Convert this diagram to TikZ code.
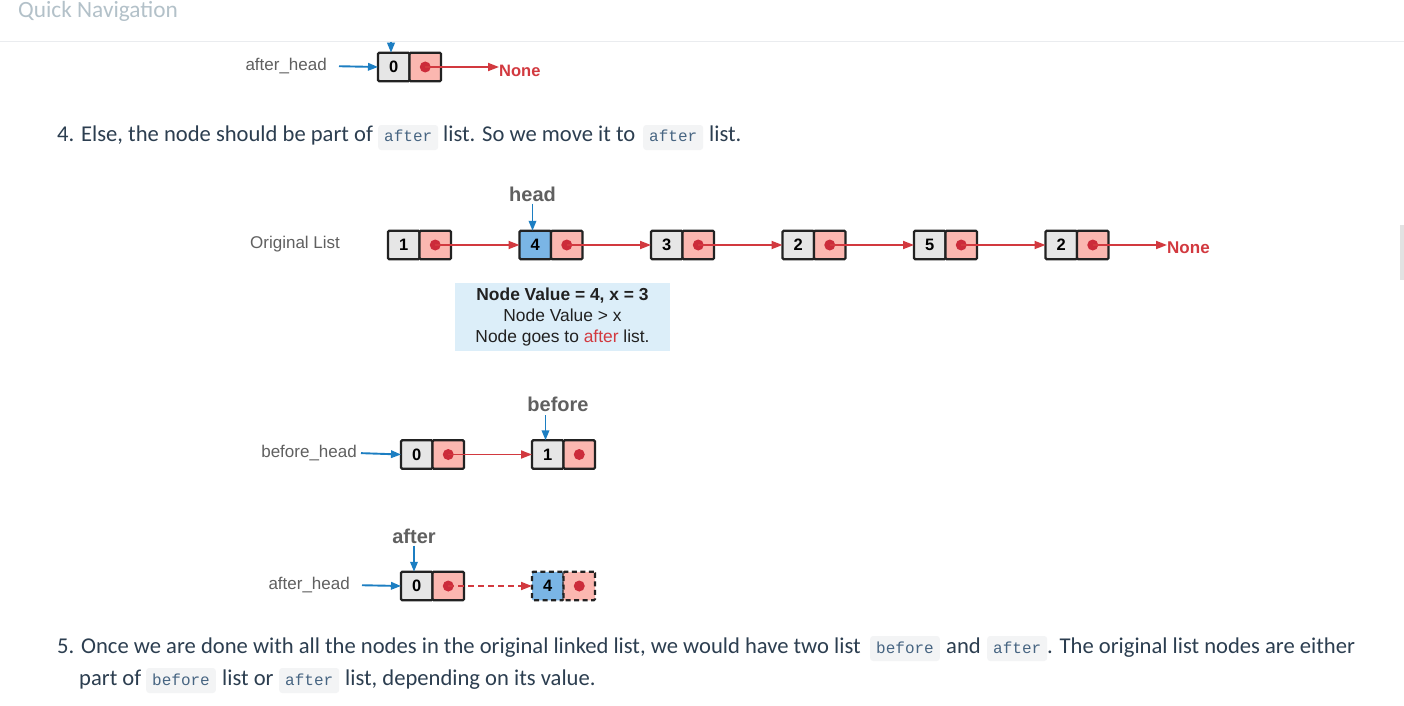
\documentclass[tikz,border=0pt]{standalone}
\usepackage{fontspec}
\setmainfont{Carlito}
\setmonofont{Liberation Mono}
\newfontfamily\diagfont{Liberation Sans}
\usetikzlibrary{arrows.meta,positioning}

\definecolor{bodytext}{HTML}{2C3E50}
\definecolor{navgray}{HTML}{B3C1C9}
\definecolor{rulegray}{HTML}{EAECEF}
\definecolor{codebg}{HTML}{F3F4F5}
\definecolor{codeblue}{HTML}{476582}
\definecolor{labelgray}{HTML}{606060}
\definecolor{cellline}{HTML}{222222}
\definecolor{cellgray}{HTML}{E6E6E6}
\definecolor{cellpink}{HTML}{FBB7B0}
\definecolor{cellblue}{HTML}{7AB5E5}
\definecolor{dotred}{HTML}{CC2B3A}
\definecolor{arrowred}{HTML}{D2393F}
\definecolor{arrowblue}{HTML}{1C7EC2}
\definecolor{infoblue}{HTML}{DCEEF9}
\definecolor{bargray}{HTML}{E2E2E2}

\tikzset{
  cell/.style={draw=cellline, line width=2.2pt, minimum width=31.5pt, minimum height=28.5pt,
    inner sep=0pt, outer sep=0pt, anchor=west, rounded corners=1.2pt,
    font=\diagfont\bfseries\fontsize{16.5}{16.5}\selectfont},
  valcell/.style={cell, fill=cellgray},
  ptrcell/.style={cell, fill=cellpink},
  ghost/.style={dash pattern=on 5pt off 3.5pt},
  redarrow/.style={draw=arrowred, line width=1.8pt, -{Triangle[length=11pt,width=8pt]}},
  bluearrow/.style={draw=arrowblue, line width=1.9pt, -{Triangle[length=10pt,width=7.5pt]}},
  ptrlabel/.style={text=labelgray, inner sep=2pt, font=\diagfont\bfseries\fontsize{20}{20}\selectfont},
  listlabel/.style={text=labelgray, inner sep=0pt, font=\diagfont\fontsize{17}{17}\selectfont},
  nonelabel/.style={text=arrowred, inner sep=0pt, anchor=west, font=\diagfont\bfseries\fontsize{17}{17}\selectfont},
  txt/.style={inner sep=0pt, anchor=base west, text=bodytext, font=\fontsize{22.6}{26}\selectfont},
  code/.style={fill=codebg, rounded corners=3pt, text=codeblue, anchor=base west,
    inner xsep=6pt, inner ysep=4pt, text height=13pt, text depth=4pt,
    font=\ttfamily\fontsize{16}{16}\selectfont}
}

% one linked list node: name, position, value, fill of value cell, extra style
\newcommand{\lnode}[5]{%
  \node[valcell, fill=#4, #5] (#1) at (#2) {#3};
  \node[ptrcell, #5] (#1p) at (#1.east) {};
  \fill[dotred] (#1p.center) circle (5.5pt);
}

\begin{document}
\begin{tikzpicture}[x=1pt, y=-1pt]
  \useasboundingbox (0,0) rectangle (1404,706);
  \fill[white] (0,0) rectangle (1404,706);

  % page header
  \node[txt, text=navgray, font=\fontsize{23.3}{26}\selectfont] (nav) at (18,18) {Quick Navigation};
  \draw[rulegray, line width=1pt] (0,41.5) -- (1404,41.5);
  \fill[bargray] (1400,225) rectangle (1404,280);

  % tail of the previous step
  \lnode{t0}{378,67}{0}{cellgray}{}
  \coordinate (tin) at (391,42);
  \draw[bluearrow] (tin) -- (tin |- t0.north);
  \node[listlabel, anchor=east] (tah) at (327,66) {after\_head};
  \draw[bluearrow, shorten <=12pt] (tah.east) -- (t0.west);
  \node[nonelabel, font=\diagfont\bfseries\fontsize{16.5}{16.5}\selectfont] (tnone) at (499,71) {None};
  \draw[redarrow] (t0p.center) -- (t0p.center -| tnone.west);

  % step 4
  \node[txt] (s4a) at (57,142) {4. Else, the node should be part of};
  \node[code] (s4b) at (378,142) {after};
  \node[txt] (s4c) at (443,142) {list. So we move it to};
  \node[code] (s4d) at (643,142) {after};
  \node[txt] (s4e) at (709,142) {list.};

  % original list
  \node[listlabel, anchor=west] (orig) at (250,244) {Original List};
  \foreach \v/\c [count=\i] in {1/cellgray,4/cellblue,3/cellgray,2/cellgray,5/cellgray,2/cellgray}{
    \lnode{o\i}{{388+131.5*(\i-1)},245}{\v}{\c}{}
  }
  \foreach \i in {1,...,5}{
    \pgfmathtruncatemacro{\j}{\i+1}
    \draw[redarrow] (o\i p.center) -- (o\j.west);
  }
  \node[nonelabel] (onone) at (1167,248) {None};
  \draw[redarrow] (o6p.center) -- (o6p.center -| onone.west);
  \node[ptrlabel] (head) at (532.5,194) {head};
  \draw[bluearrow] (head.south) -- (head.south |- o2.north);

  \node[fill=infoblue, minimum width=215pt, minimum height=68pt, inner sep=0pt, align=center,
    text=black!87, font=\diagfont\fontsize{17.4}{21}\selectfont] (info) at (562.5,317)
    {\textbf{Node Value = 4, x = 3}\\Node Value > x\\Node goes to \textcolor{arrowred}{after} list.};

  % before list
  \lnode{b0}{401,454.5}{0}{cellgray}{}
  \lnode{b1}{532,454.5}{1}{cellgray}{}
  \draw[redarrow] (b0p.center) -- (b1.west);
  \node[listlabel, anchor=east] (bh) at (357,453) {before\_head};
  \draw[bluearrow, shorten <=4pt] (bh.east) -- (b0.west);
  \node[ptrlabel] (before) at (558,404) {before};
  \coordinate (bin) at (545.5,415);
  \draw[bluearrow] (bin) -- (bin |- b1.north);

  % after list
  \lnode{a0}{401,586}{0}{cellgray}{}
  \lnode{a1}{532,586}{4}{cellblue}{ghost}
  \draw[redarrow, dash pattern=on 6pt off 4pt] (a0p.center) -- (a1.west);
  \node[listlabel, anchor=east] (ah) at (350,585) {after\_head};
  \draw[bluearrow, shorten <=12pt] (ah.east) -- (a0.west);
  \node[ptrlabel] (after) at (414,536) {after};
  \draw[bluearrow] (after.south) -- (after.south |- a0.north);

  % step 5
  \node[txt] (s5a) at (57,653) {5. Once we are done with all the nodes in the original linked list, we would have two list};
  \node[code] (s5b) at (870,653) {before};
  \node[txt] (s5c) at (946,653) {and};
  \node[code] (s5d) at (987,653) {after};
  \node[txt] (s5e) at (1047,653) {. The original list nodes are either};
  \node[txt] (s5f) at (79,685) {part of};
  \node[code] (s5g) at (146,685) {before};
  \node[txt] (s5h) at (222,685) {list or};
  \node[code] (s5i) at (279,685) {after};
  \node[txt] (s5j) at (345,685) {list, depending on its value.};
\end{tikzpicture}
\end{document}
